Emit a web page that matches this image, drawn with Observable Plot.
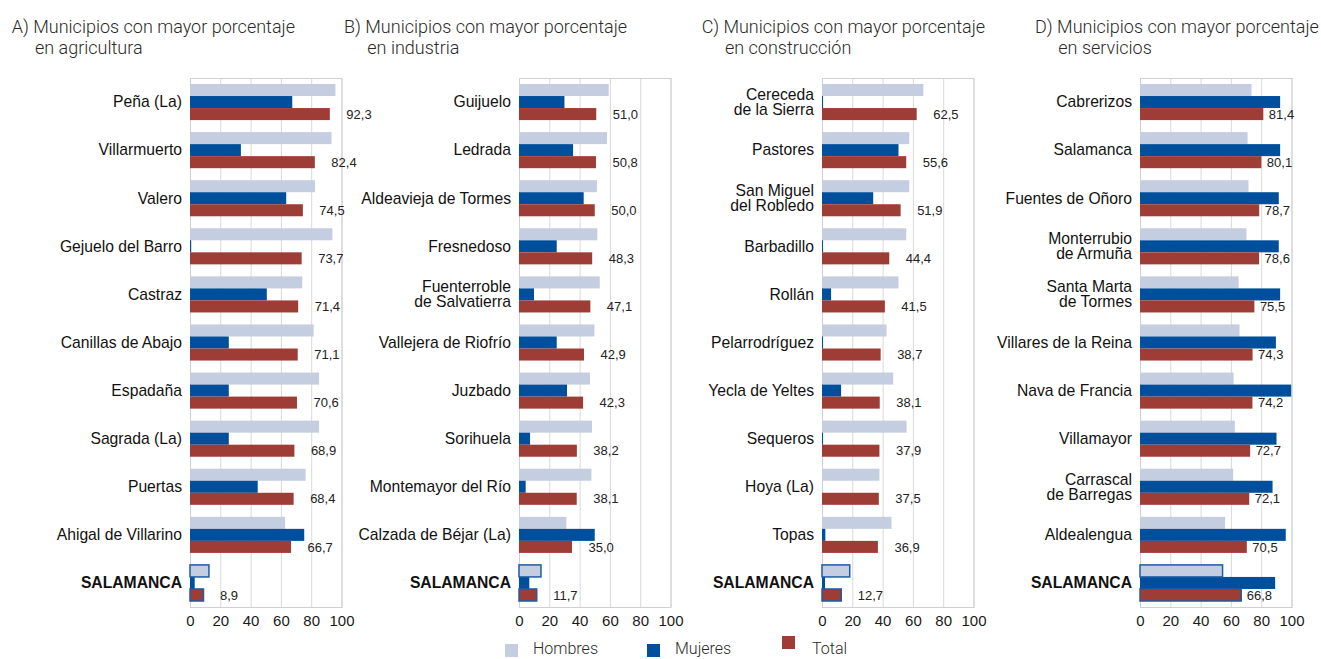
<!DOCTYPE html>
<html>
<head>
<meta charset="utf-8">
<script src="https://cdn.jsdelivr.net/npm/d3@7"></script>
<script src="https://cdn.jsdelivr.net/npm/@observablehq/plot@0.6"></script>
<style>
  html, body { margin: 0; padding: 0; background: #ffffff; }
  #wrap { position: relative; width: 1321px; height: 659px; overflow: hidden; background: #fff; }
  .panel { position: absolute; top: 60px; }
  .panel svg { overflow: visible; background: transparent; max-width: none !important; }
  .title { position: absolute; font-family: Roboto, "Open Sans", sans-serif; font-weight: 300; font-size: 18px; line-height: 20.7px; color: #2a2a2a; white-space: nowrap; }
  .leg { position: absolute; font-family: Roboto, "Open Sans", sans-serif; font-weight: 300; font-size: 16px; line-height: 16px; color: #2a2a2a; white-space: nowrap; }
  .sw { position: absolute; width: 13px; height: 13px; }
</style>
</head>
<body>
<div id="wrap"></div>
<script>
// ---------- data ----------
const seriesNames = ["Hombres", "Mujeres", "Total"];
const seriesColors = ["#c5cde0", "#004f9d", "#9e3c36"];
const xTicks = [0, 20, 40, 60, 80, 100];

const titleLine1 = [
  "A) Municipios con mayor porcentaje",
  "B) Municipios con mayor porcentaje",
  "C) Municipios con mayor porcentaje",
  "D) Municipios con mayor porcentaje"
];
const titleLine2 = ["en agricultura", "en industria", "en construcción", "en servicios"];

const municipiosA = ["Peña (La)", "Villarmuerto", "Valero", "Gejuelo del Barro", "Castraz", "Canillas de Abajo", "Espadaña", "Sagrada (La)", "Puertas", "Ahigal de Villarino", "SALAMANCA"];
const hombresA = [96.0, 93.4, 82.5, 94.0, 74.1, 81.6, 85.2, 85.2, 76.3, 62.8, 12.5];
const mujeresA = [67.5, 33.6, 63.5, 0.8, 50.7, 25.6, 25.6, 25.6, 44.7, 75.4, 3.1];
const totalA = [92.3, 82.4, 74.5, 73.7, 71.4, 71.1, 70.6, 68.9, 68.4, 66.7, 8.9];

const municipiosB = ["Guijuelo", "Ledrada", "Aldeavieja de Tormes", "Fresnedoso", "Fuenterroble\nde Salvatierra", "Vallejera de Riofrío", "Juzbado", "Sorihuela", "Montemayor del Río", "Calzada de Béjar (La)", "SALAMANCA"];
const hombresB = [59.2, 58.1, 51.5, 51.7, 53.3, 49.8, 46.9, 48.2, 47.8, 31.3, 14.5];
const mujeresB = [30.0, 35.7, 42.7, 24.9, 9.9, 24.9, 31.7, 7.3, 4.4, 50.0, 6.8];
const totalB = [51.0, 50.8, 50.0, 48.3, 47.1, 42.9, 42.3, 38.2, 38.1, 35.0, 11.7];

const municipiosC = ["Cereceda\nde la Sierra", "Pastores", "San Miguel\ndel Robledo", "Barbadillo", "Rollán", "Pelarrodríguez", "Yecla de Yeltes", "Sequeros", "Hoya (La)", "Topas", "SALAMANCA"];
const hombresC = [66.9, 57.6, 57.6, 55.6, 50.5, 42.6, 47.0, 55.8, 37.9, 45.9, 18.3];
const mujeresC = [0.7, 50.5, 33.8, 0.7, 6.0, 0.7, 12.6, 0.7, 0, 2.2, 2.0];
const totalC = [62.5, 55.6, 51.9, 44.4, 41.5, 38.7, 38.1, 37.9, 37.5, 36.9, 12.7];

const municipiosD = ["Cabrerizos", "Salamanca", "Fuentes de Oñoro", "Monterrubio\nde Armuña", "Santa Marta\nde Tormes", "Villares de la Reina", "Nava de Francia", "Villamayor", "Carrascal\nde Barregas", "Aldealengua", "SALAMANCA"];
const hombresD = [73.6, 71.0, 71.6, 70.3, 65.1, 65.7, 61.8, 62.6, 61.5, 56.2, 54.5];
const mujeresD = [92.5, 92.5, 91.6, 91.6, 92.5, 89.7, 99.8, 90.1, 87.5, 96.2, 89.2];
const totalD = [81.4, 80.1, 78.7, 78.6, 75.5, 74.3, 74.2, 72.7, 72.1, 70.5, 66.8];

const totalKey = "SALAMANCA";

// ---------- layout ----------
const panels = [
  {munis: municipiosA, h: hombresA, m: mujeresA, t: totalA, plotLeft: 190, dx: 16, titleLeft: 11.7},
  {munis: municipiosB, h: hombresB, m: mujeresB, t: totalB, plotLeft: 518.7, dx: 16, titleLeft: 344},
  {munis: municipiosC, h: hombresC, m: mujeresC, t: totalC, plotLeft: 821.7, dx: 16, titleLeft: 701.7},
  {munis: municipiosD, h: hombresD, m: mujeresD, t: totalD, plotLeft: 1140, dx: 5, titleLeft: 1035}
];

const fmt = v => d3.format(".1f")(v).replace(".", ",");
const wrap = document.getElementById("wrap");

const ML = 180, PW = 151.5, MR = 45, H = 577, MT = 18, MB = 30;

panels.forEach((p, idx) => {
  const n = p.munis.length;
  const bw = (H - MT - MB) / n;
  const g = 6;
  const b = (bw - 2 * g) / 3;
  const inset = k => ({insetTop: g + k * b, insetBottom: bw - g - (k + 1) * b});
  const dyTotal = g + 2.5 * b - bw / 2;
  const rows = p.munis.map((mu, i) => ({muni: mu, h: p.h[i], m: p.m[i], t: p.t[i]}));
  const sal = rows.filter(r => r.muni === totalKey);
  const rest = rows.filter(r => r.muni !== totalKey);

  const chart = Plot.plot({
    width: ML + PW + MR,
    height: H,
    marginLeft: ML, marginRight: MR, marginTop: MT, marginBottom: MB,
    style: {fontFamily: "'Liberation Sans', Arial, sans-serif", fontSize: "15px", color: "#1a1a1a", background: "transparent", overflow: "visible", maxWidth: "none"},
    x: {domain: [0, 100]},
    y: {domain: p.munis, padding: 0, round: false, axis: null},
    marks: [
      Plot.gridX({ticks: xTicks, stroke: "#d9d9d9", strokeOpacity: 1}),
      Plot.frame({stroke: "#d0d0d0"}),
      Plot.barX(rows, {x: "h", y: "muni", fill: seriesColors[0], ...inset(0)}),
      Plot.barX(rows, {x: "m", y: "muni", fill: seriesColors[1], ...inset(1)}),
      Plot.barX(rows, {x: "t", y: "muni", fill: seriesColors[2], ...inset(2)}),
      Plot.barX(sal, {x: "h", y: "muni", fill: "none", stroke: "#1d5ca6", strokeWidth: 1.5, ...inset(0)}),
      Plot.barX(sal, {x: "t", y: "muni", fill: "none", stroke: "#1d5ca6", strokeWidth: 1.5, ...inset(2)}),
      Plot.axisX({ticks: xTicks, tickSize: 0, tickPadding: 8, fontSize: 15}),
      Plot.text(rest, {y: "muni", text: "muni", frameAnchor: "left", dx: -8.5, textAnchor: "end", fontSize: 15.7, lineHeight: 0.96, fill: "#111"}),
      Plot.text(sal, {y: "muni", text: "muni", frameAnchor: "left", dx: -8.5, textAnchor: "end", fontSize: 15.7, fontWeight: "bold", fill: "#111"}),
      Plot.text(rows, {x: "t", y: "muni", text: d => fmt(d.t), dx: p.dx, dy: dyTotal, textAnchor: "start", fontSize: 13, fill: "#222"})
    ]
  });
  const div = document.createElement("div");
  div.className = "panel";
  div.style.left = (p.plotLeft - ML) + "px";
  div.style.width = (ML + PW + MR) + "px";
  div.appendChild(chart);
  wrap.appendChild(div);

  const t1 = document.createElement("div");
  t1.className = "title";
  t1.style.left = p.titleLeft + "px";
  t1.style.top = "16.8px";
  t1.textContent = titleLine1[idx];
  wrap.appendChild(t1);
  const t2 = document.createElement("div");
  t2.className = "title";
  t2.style.left = (p.titleLeft + 23.3) + "px";
  t2.style.top = "37.5px";
  t2.textContent = titleLine2[idx];
  wrap.appendChild(t2);
});

// ---------- legend ----------
const legendSwatch = [{x: 505, y: 644}, {x: 647, y: 644}, {x: 782, y: 636}];
const legendText = [533, 675, 812];
seriesNames.forEach((s, i) => {
  const sw = document.createElement("div");
  sw.className = "sw";
  sw.style.left = legendSwatch[i].x + "px";
  sw.style.top = legendSwatch[i].y + "px";
  sw.style.background = seriesColors[i];
  wrap.appendChild(sw);
  const tx = document.createElement("div");
  tx.className = "leg";
  tx.style.left = legendText[i] + "px";
  tx.style.top = "641px";
  tx.textContent = s;
  wrap.appendChild(tx);
});
</script>
</body>
</html>
